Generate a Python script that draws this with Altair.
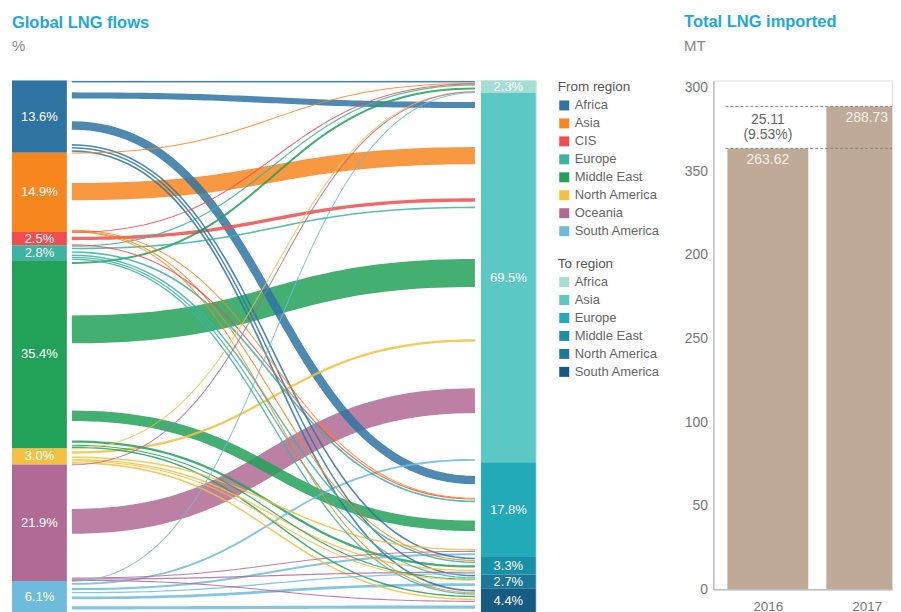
import altair as alt
import pandas as pd
import numpy as np

# ---------------- data ----------------
from_regions = ["Africa", "Asia", "CIS", "Europe", "Middle East",
                "North America", "Oceania", "South America"]
from_share = [13.6, 14.9, 2.5, 2.8, 35.4, 3.0, 21.9, 6.1]
from_colors = ["#2E74A2", "#F7861F", "#EF4D4E", "#3DB3A0", "#22A158",
               "#F2C13F", "#B06A94", "#6DBBDD"]

to_regions = ["Africa", "Asia", "Europe", "Middle East", "North America", "South America"]
to_share = [2.3, 69.5, 17.8, 3.3, 2.7, 4.4]
to_colors = ["#A3DDD3", "#5BC8C5", "#22AAB8", "#1890A5", "#1A7899", "#155B82"]

# flows (% of global LNG trade), one list per exporting region,
# ordered like to_regions
flow_from_africa = [0.5, 4.6, 6.7, 0.6, 0.5, 0.7]
flow_from_asia = [0.1, 14.4, 0.1, 0.2, 0.0, 0.1]
flow_from_cis = [0.1, 2.2, 0.2, 0.0, 0.0, 0.0]
flow_from_europe = [0.3, 0.6, 0.7, 0.5, 0.3, 0.4]
flow_from_middle_east = [1.0, 24.0, 8.5, 1.2, 0.2, 0.5]
flow_from_north_america = [0.1, 1.3, 0.5, 0.4, 0.1, 0.6]
flow_from_oceania = [0.1, 21.3, 0.1, 0.3, 0.0, 0.2]
flow_from_south_america = [0.1, 0.9, 1.0, 0.3, 1.6, 2.0]
flows = [flow_from_africa, flow_from_asia, flow_from_cis, flow_from_europe,
         flow_from_middle_east, flow_from_north_america, flow_from_oceania,
         flow_from_south_america]

years = [2016, 2017]
imports_mt = [263.62, 288.73]
tick_values = [0, 50, 100, 150, 200, 250, 300]
tick_labels = ["0", "50", "100", "250", "200", "350", "300"]

# ---------------- layout constants (pixels) ----------------
W, H = 525, 534
NODE_W = 55
X0, X1 = 60, 464
RX = 470
BAR_W, BAR_H = 179, 510
BAR_STEP, BAR_BAND = 105, 81
FONT = "Liberation Sans"
TITLE_COLOR = "#1BA9E0"

# ---------------- build tables ----------------
def cum(vals):
    c = np.concatenate([[0], np.cumsum(vals)])
    return c[:-1], c[1:]

ly0, ly1 = cum(from_share)
ry0, ry1 = cum(to_share)
left_df = pd.DataFrame({"region": from_regions, "y0": ly0, "y1": ly1,
                        "ym": (ly0 + ly1) / 2,
                        "label": [f"{v:.1f}%" for v in from_share]})
right_df = pd.DataFrame({"region": to_regions, "y0": ry0, "y1": ry1,
                         "ym": (ry0 + ry1) / 2,
                         "label": [f"{v:.1f}%" for v in to_share]})

M = np.array(flows)
row_tot = M.sum(axis=1)
col_tot = M.sum(axis=0)
rows = []
ts = np.linspace(0, 1, 60)
flow_list = []
for i in range(M.shape[0]):
    for j in range(M.shape[1]):
        v = M[i, j]
        if v <= 0:
            continue
        before_src = M[i, :j].sum()
        ys = ly0[i] + (before_src + v / 2) / row_tot[i] * from_share[i]
        before_dst = M[:i, j].sum()
        ye = ry0[j] + (before_dst + v / 2) / col_tot[j] * to_share[j]
        flow_list.append((v, i, j, ys, ye))
flow_list.sort(key=lambda r: -r[0])
xm = (X0 + X1) / 2
for k, (v, i, j, ys, ye) in enumerate(flow_list):
    for t in ts:
        a = (1 - t) ** 3
        b = 3 * (1 - t) ** 2 * t
        c = 3 * (1 - t) * t ** 2
        d = t ** 3
        rows.append({"fid": k, "t": t, "source": from_regions[i],
                     "target": to_regions[j], "value": v,
                     "x": a * X0 + (b + c) * xm + d * X1,
                     "y": (a + b) * ys + (c + d) * ye})
flow_df = pd.DataFrame(rows)

xscale = alt.Scale(domain=[0, W], range=[0, W])
yscale = alt.Scale(domain=[0, 100.2], reverse=True, nice=False, zero=False)

legend_common = dict(orient="none", symbolType="square", symbolSize=100,
                     symbolStrokeWidth=0, labelFontSize=13, labelColor="#666",
                     titleFontSize=13.5, titleColor="#555", titleFontWeight="normal",
                     rowPadding=4, titlePadding=5, labelOffset=4, padding=0,
                     legendX=547)

lines = alt.Chart(flow_df).mark_line(strokeCap="butt", opacity=0.85).encode(
    x=alt.X("x:Q", scale=xscale, axis=None),
    y=alt.Y("y:Q", scale=yscale, axis=None),
    stroke=alt.Stroke("source:N", scale=alt.Scale(domain=from_regions, range=from_colors),
                      legend=None),
    strokeWidth=alt.StrokeWidth("value:Q", scale=alt.Scale(domain=[0, 24], range=[0.9, 28]),
                                legend=None),
    detail="fid:N",
    order="t:Q",
)

left_nodes = alt.Chart(left_df).mark_rect().encode(
    x=alt.value(0), x2=alt.value(NODE_W),
    y=alt.Y("y0:Q", scale=yscale, axis=None), y2="y1:Q",
    fill=alt.Fill("region:N", scale=alt.Scale(domain=from_regions, range=from_colors),
                  legend=alt.Legend(title="From region", legendY=0, **legend_common)),
)
left_text = alt.Chart(left_df).mark_text(color="white", fontSize=13, font=FONT).encode(
    x=alt.value(NODE_W / 2), y=alt.Y("ym:Q", scale=yscale, axis=None), text="label:N")

right_nodes = alt.Chart(right_df).mark_rect().encode(
    x=alt.value(RX), x2=alt.value(W),
    y=alt.Y("y0:Q", scale=yscale, axis=None), y2="y1:Q",
    fill=alt.Fill("region:N", scale=alt.Scale(domain=to_regions, range=to_colors),
                  legend=alt.Legend(title="To region", legendY=177, **legend_common)),
)
right_text = alt.Chart(right_df).mark_text(color="white", fontSize=13, font=FONT).encode(
    x=alt.value((RX + W) / 2), y=alt.Y("ym:Q", scale=yscale, axis=None), text="label:N")

sankey = alt.layer(lines, left_nodes, right_nodes, left_text, right_text).resolve_scale(
    fill="independent").properties(
    width=W, height=H,
    title=alt.TitleParams("Global LNG flows", subtitle="%", anchor="start",
                          fontSize=16.5, fontWeight="bold", color=TITLE_COLOR, font=FONT,
                          subtitleFontSize=15, subtitleColor="#888", subtitleFont=FONT,
                          subtitlePadding=8, offset=25),
)

# ---------------- bar chart ----------------
bar_df = pd.DataFrame({"year": years, "mt": imports_mt})
diff = imports_mt[1] - imports_mt[0]
diff_df = pd.DataFrame({"year": [years[0]],
                        "mid": [(imports_mt[0] + imports_mt[1]) / 2],
                        "txt": [f"{diff:.2f}\n({diff / imports_mt[0] * 100:.2f}%)"]})

label_expr = ("[" + ",".join(f"'{s}'" for s in tick_labels) + "][indexof(["
              + ",".join(str(v) for v in tick_values) + "], datum.value)]")

x_start = years[0] - (BAR_STEP / 2) / BAR_STEP
bx_scale = alt.Scale(domain=[x_start, x_start + BAR_W / BAR_STEP], nice=False, zero=False)
bx = alt.X("year:Q", scale=bx_scale,
           axis=alt.Axis(title=None, values=years, format="d", labelAngle=0, ticks=False,
                         grid=False, domainColor="#AAA", labelFlush=False,
                         labelColor="#777", labelFontSize=13.5, labelPadding=10, labelFont=FONT))
by = alt.Y("mt:Q", scale=alt.Scale(domain=[0, 304.2], nice=False),
           axis=alt.Axis(title=None, values=tick_values, labelExpr=label_expr, ticks=False,
                         grid=False, domainColor="#AAA", labelColor="#777",
                         labelFontSize=14, labelPadding=6, labelFlush=False, labelFont=FONT))

bars = alt.Chart(bar_df).mark_bar(color="#BEAA97", clip=True, width=BAR_BAND).encode(x=bx, y=by)
rules = alt.Chart(bar_df).mark_rule(color="#888", strokeDash=[3, 2], strokeWidth=1).encode(
    y="mt:Q", x=alt.value(12), x2=alt.value(BAR_W))
bar_labels = alt.Chart(bar_df).mark_text(color="#F6F0E8", fontSize=14, baseline="top",
                                          dy=5, font=FONT).encode(
    x=alt.X("year:Q"), y="mt:Q", text=alt.Text("mt:Q", format=".2f"))
diff_text = alt.Chart(diff_df).mark_text(color="#666", fontSize=14, lineBreak="\n",
                                         lineHeight=15, baseline="middle", dy=-7,
                                         font=FONT).encode(
    x=alt.X("year:Q"), y="mid:Q", text="txt:N")

barchart = alt.layer(bars, rules, bar_labels, diff_text).properties(
    width=BAR_W, height=BAR_H,
    title=alt.TitleParams("Total LNG imported", subtitle="MT", anchor="start",
                          fontSize=16.5, fontWeight="bold", color=TITLE_COLOR, font=FONT,
                          subtitleFontSize=15, subtitleColor="#888", subtitleFont=FONT,
                          subtitlePadding=8, offset=27),
)

chart = alt.hconcat(sankey, barchart, spacing=22).properties(
    padding={"left": 3, "top": 5, "right": 0, "bottom": 0}
).configure_view(stroke=None).configure(font=FONT)

chart.save("out.html", embed_options={"renderer": "svg", "actions": False})
